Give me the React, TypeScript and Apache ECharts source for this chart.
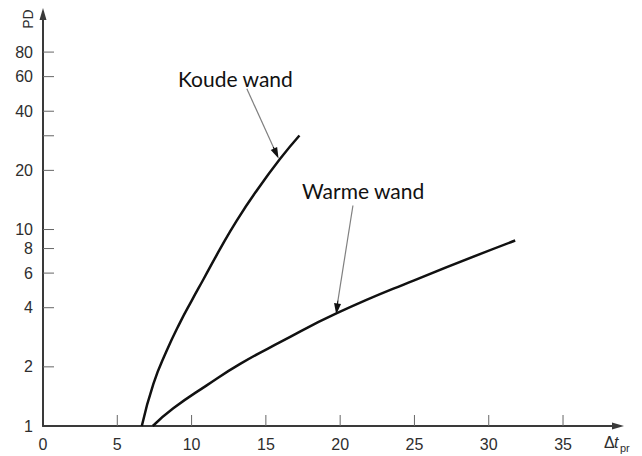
import { useEffect, useRef } from "react";
import * as echarts from "echarts";

// Curves: [Δt_pr, PD]
const coldWall: [number, number][] = [
  [6.65, 1], [7.43, 1.64], [8.33, 2.42], [9.23, 3.37], [10.01, 4.35], [10.81, 5.6],
  [11.92, 7.96], [13.04, 11.1], [14.39, 15.8], [15.96, 22.9], [17.26, 30.1],
];
const warmWall: [number, number][] = [
  [7.39, 1], [8.77, 1.23], [11.02, 1.61], [13.27, 2.07], [15.96, 2.67],
  [19.78, 3.75], [24.94, 5.5], [31.78, 8.79],
];

// Axis ticks and labels
const xTickValues = [5, 10, 15, 20, 25, 30, 35];
const xLabelValues = [0, 5, 10, 15, 20, 25, 30, 35];
const yTickValues = [2, 4, 6, 8, 10, 20, 30, 40, 60, 80];
const yLabelValues = [1, 2, 4, 6, 8, 10, 20, 40, 60, 80];

// Annotation pointers in data units: tail, start of head, head
const coldPointer: [number, number][] = [[13.72, 52.0], [15.5, 26.3], [15.7, 24.4]];
const warmPointer: [number, number][] = [[20.86, 13.25], [19.85, 4.35], [19.78, 3.94]];

const AXIS_FONT = "'Liberation Sans', Arial, sans-serif";
const NOTE_FONT = "Lato, 'Open Sans', sans-serif";

export default function App() {
  const ref = useRef<HTMLDivElement>(null);

  useEffect(() => {
    if (!ref.current) return;
    const chart = echarts.init(ref.current, undefined, { renderer: "svg" });

    const pointerMark = (pts: [number, number][]) => ({
      silent: true,
      symbol: ["none", "triangle"],
      symbolSize: [7, 11],
      lineStyle: { color: "#111", width: 1.2, type: "solid" },
      label: { show: false },
      emphasis: { disabled: true },
      data: [
        [
          { coord: pts[0], lineStyle: { color: "#808080", width: 1.2 } },
          { coord: pts[1], symbol: "none" },
        ],
        [{ coord: pts[1] }, { coord: pts[2] }],
      ],
    });

    const axisLine = {
      show: true,
      onZero: false,
      symbol: ["none", "triangle"],
      symbolSize: [7, 12],
      lineStyle: { color: "#3a3a3a", width: 2 },
    };

    const labelStyle = {
      fill: "#2e2e2e",
      fontSize: 16,
      fontFamily: AXIS_FONT,
      verticalAlign: "middle",
    };

    chart.setOption({
      animation: false,
      backgroundColor: "#fff",
      grid: { left: 43, right: 24, top: 14, bottom: 30 },
      xAxis: {
        type: "value",
        min: 0,
        max: 38.7,
        axisLine,
        axisTick: { show: false },
        axisLabel: { show: false },
        splitLine: { show: false },
      },
      yAxis: {
        type: "log",
        logBase: 10,
        min: 1,
        max: 125,
        axisLine,
        axisTick: { show: false },
        axisLabel: { show: false },
        splitLine: { show: false },
      },
      series: [
        {
          name: "Koude wand",
          type: "line",
          data: coldWall,
          smooth: 0.5,
          showSymbol: false,
          silent: true,
          lineStyle: { color: "#111", width: 2.5 },
          markLine: pointerMark(coldPointer),
        },
        {
          name: "Warme wand",
          type: "line",
          data: warmWall,
          smooth: 0.5,
          showSymbol: false,
          silent: true,
          lineStyle: { color: "#111", width: 2.5 },
          markLine: pointerMark(warmPointer),
        },
        {
          // x-axis ticks, pointing inward
          type: "custom",
          silent: true,
          data: xTickValues.map((v) => [v, 1]),
          renderItem: (_p: any, api: any) => {
            const c = api.coord([api.value(0), api.value(1)]);
            return {
              type: "line",
              shape: { x1: c[0], y1: c[1], x2: c[0], y2: c[1] - 11 },
              style: { stroke: "#666", lineWidth: 1 },
            };
          },
        },
        {
          // x-axis labels
          type: "custom",
          silent: true,
          data: xLabelValues.map((v) => [v, 1]),
          renderItem: (_p: any, api: any) => {
            const v = api.value(0);
            const c = api.coord([v, api.value(1)]);
            return {
              type: "text",
              x: c[0],
              y: c[1] + 18,
              style: { ...labelStyle, text: String(v), align: "center" },
            };
          },
        },
        {
          // y-axis ticks, pointing inward
          type: "custom",
          silent: true,
          data: yTickValues.map((v) => [0, v]),
          renderItem: (_p: any, api: any) => {
            const c = api.coord([api.value(0), api.value(1)]);
            return {
              type: "line",
              shape: { x1: c[0], y1: c[1], x2: c[0] + 11, y2: c[1] },
              style: { stroke: "#666", lineWidth: 1 },
            };
          },
        },
        {
          // y-axis labels
          type: "custom",
          silent: true,
          data: yLabelValues.map((v) => [0, v]),
          renderItem: (_p: any, api: any) => {
            const v = api.value(1);
            const c = api.coord([api.value(0), v]);
            return {
              type: "text",
              x: c[0] - 10,
              y: c[1],
              style: { ...labelStyle, text: String(Math.round(v)), align: "right" },
            };
          },
        },
      ],
      graphic: [
        {
          type: "text",
          x: 28,
          y: 19,
          rotation: Math.PI / 2,
          style: {
            text: "PD",
            fill: "#2e2e2e",
            fontSize: 14,
            fontFamily: AXIS_FONT,
            align: "center",
            verticalAlign: "middle",
          },
        },
        {
          type: "text",
          x: 604,
          y: 442,
          style: { ...labelStyle, text: "Δ", align: "left" },
        },
        {
          type: "text",
          x: 614,
          y: 442,
          style: { ...labelStyle, text: "t", fontStyle: "italic", align: "left" },
        },
        {
          type: "text",
          x: 620,
          y: 448,
          style: { ...labelStyle, text: "pr", fontSize: 11, align: "left" },
        },
        {
          type: "text",
          x: 178,
          y: 78,
          style: {
            text: "Koude wand",
            fill: "#111",
            fontSize: 21,
            fontFamily: NOTE_FONT,
            align: "left",
            verticalAlign: "middle",
          },
        },
        {
          type: "text",
          x: 302,
          y: 190,
          style: {
            text: "Warme wand",
            fill: "#111",
            fontSize: 21,
            fontFamily: NOTE_FONT,
            align: "left",
            verticalAlign: "middle",
          },
        },
      ],
    });

    return () => chart.dispose();
  }, []);

  return (
    <div
      ref={ref}
      style={{ position: "fixed", left: 0, top: 0, width: 642, height: 456, background: "#fff" }}
    />
  );
}
